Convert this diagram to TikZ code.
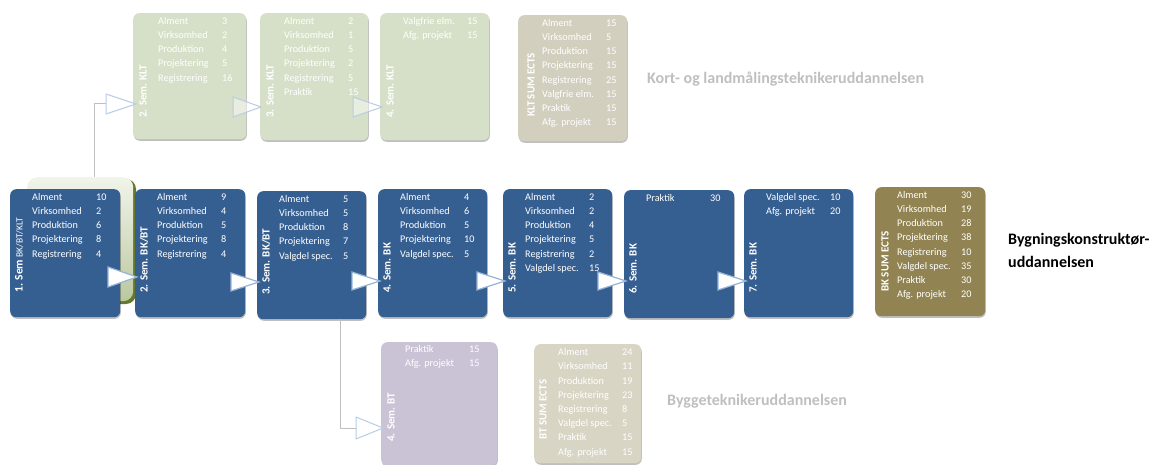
\documentclass[tikz,border=0pt]{standalone}
\usepackage{fontspec}
\setmainfont{Carlito}
\usetikzlibrary{calc,shadows}
\definecolor{bkblue}{HTML}{365F91}
\definecolor{kltgreen}{HTML}{D6E0C8}
\definecolor{kltsum}{HTML}{D3CFBF}
\definecolor{btlav}{HTML}{CAC3D5}
\definecolor{btsum}{HTML}{D8D5C5}
\definecolor{bksum}{HTML}{918452}
\definecolor{conngray}{HTML}{BFBFBF}
\definecolor{tribl}{HTML}{95B3D7}
\definecolor{trilight}{HTML}{B8CCE4}
\definecolor{olivedark}{HTML}{66772F}
\definecolor{greentop}{HTML}{F1F4EA}
\definecolor{greenbot}{HTML}{BBC89E}
\newcommand\rw[2]{\makebox[64pt][l]{#1}#2}
\tikzset{
  semibox/.style={rounded corners=6pt, anchor=north west, inner sep=0pt,
    drop shadow={shadow xshift=0.6pt, shadow yshift=-1.6pt, opacity=0.25, fill=black}},
  bluebox/.style={semibox, fill=bkblue},
  kltbox/.style={semibox, fill=kltgreen},
  kltsumbox/.style={semibox, fill=kltsum},
  btbox/.style={semibox, fill=btlav},
  btsumbox/.style={semibox, fill=btsum},
  bksumbox/.style={semibox, fill=bksum},
  tbl/.style={anchor=north west, inner sep=0pt, align=left, text=white,
    font=\fontsize{10.2}{14.2}\selectfont},
  vlab/.style={rotate=90, anchor=west, inner sep=0pt, text=white,
    font=\bfseries\fontsize{11}{12}\selectfont},
  conn/.style={draw=conngray, line width=1pt},
  bluetri/.style={draw=tribl, fill=white, line width=1.2pt, line join=miter},
  lighttri/.style={draw=trilight, fill=white, fill opacity=0.45, line width=1pt},
  biglab/.style={inner sep=0pt, font=\bfseries\fontsize{16}{23}\selectfont},
}
\begin{document}
\begin{tikzpicture}[x=1pt, y=-1pt]
\useasboundingbox (0,0) rectangle (1157,465);

% green box behind first semester
\fill[olivedark, rounded corners=10pt] (29,179) rectangle (136,304);
\node[rounded corners=10pt, anchor=north west, inner sep=0pt,
  minimum width=106, minimum height=124,
  top color=greentop, bottom color=greenbot] (g1) at (27,177) {};

% ---------- BK row ----------
\node[bluebox, minimum width=110, minimum height=128] (b1) at (10,189) {};
\node[bluebox, minimum width=110, minimum height=128] (b2) at (135,189) {};
\node[bluebox, minimum width=109, minimum height=128] (b3) at (257,191) {};
\node[bluebox, minimum width=109, minimum height=128] (b4) at (378,189) {};
\node[bluebox, minimum width=109, minimum height=128] (b5) at (503,189) {};
\node[bluebox, minimum width=110, minimum height=128] (b6) at (624,190) {};
\node[bluebox, minimum width=109, minimum height=128] (b7) at (744,189) {};
\node[bksumbox, minimum width=110, minimum height=129] (bks) at (875,187) {};

\node[tbl] (b1t) at ($(b1.north west)+(22,4)$) {\rw{Alment}{10}\\\rw{Virksomhed}{2}\\\rw{Produktion}{6}\\\rw{Projektering}{8}\\\rw{Registrering}{4}};
\node[tbl] (b2t) at ($(b2.north west)+(22,4)$) {\rw{Alment}{9}\\\rw{Virksomhed}{4}\\\rw{Produktion}{5}\\\rw{Projektering}{8}\\\rw{Registrering}{4}};
\node[tbl] (b3t) at ($(b3.north west)+(22,4)$) {\rw{Alment}{5}\\\rw{Virksomhed}{5}\\\rw{Produktion}{8}\\\rw{Projektering}{7}\\\rw{Valgdel spec.}{5}};
\node[tbl] (b4t) at ($(b4.north west)+(22,4)$) {\rw{Alment}{4}\\\rw{Virksomhed}{6}\\\rw{Produktion}{5}\\\rw{Projektering}{10}\\\rw{Valgdel spec.}{5}};
\node[tbl] (b5t) at ($(b5.north west)+(22,4)$) {\rw{Alment}{2}\\\rw{Virksomhed}{2}\\\rw{Produktion}{4}\\\rw{Projektering}{5}\\\rw{Registrering}{2}\\\rw{Valgdel spec.}{15}};
\node[tbl] (b6t) at ($(b6.north west)+(22,4)$) {\rw{Praktik}{30}};
\node[tbl] (b7t) at ($(b7.north west)+(22,4)$) {\rw{Valgdel spec.}{10}\\\rw{Afg. projekt}{20}};
\node[tbl] (bkst) at ($(bks.north west)+(22,4)$) {\rw{Alment}{30}\\\rw{Virksomhed}{19}\\\rw{Produktion}{28}\\\rw{Projektering}{38}\\\rw{Registrering}{10}\\\rw{Valgdel spec.}{35}\\\rw{Praktik}{30}\\\rw{Afg. projekt}{20}};

\node[vlab] (b1l) at ($(b1.north west)+(9,104)$) {\fontsize{11.5}{12}\selectfont 1. Sem {\mdseries\fontsize{9.5}{10}\selectfont BK/BT/KLT}};
\node[vlab] (b2l) at ($(b2.north west)+(9,104)$) {2. Sem. BK/BT};
\node[vlab] (b3l) at ($(b3.north west)+(9,104)$) {3. Sem. BK/BT};
\node[vlab] (b4l) at ($(b4.north west)+(9,104)$) {4. Sem. BK};
\node[vlab] (b5l) at ($(b5.north west)+(9,104)$) {5. Sem. BK};
\node[vlab] (b6l) at ($(b6.north west)+(9,104)$) {6. Sem. BK};
\node[vlab] (b7l) at ($(b7.north west)+(9,104)$) {7. Sem. BK};
\node[vlab] (bksl) at ($(bks.north west)+(10,105)$) {BK SUM ECTS};

% ---------- KLT row ----------
\node[kltbox, minimum width=113, minimum height=126] (k2) at (133,13) {};
\node[kltbox, minimum width=108, minimum height=127] (k3) at (260,13) {};
\node[kltbox, minimum width=109, minimum height=127] (k4) at (380,13) {};
\node[kltsumbox, minimum width=109, minimum height=126] (ks) at (518,15) {};

\node[tbl] (k2t) at ($(k2.north west)+(25,4)$) {\rw{Alment}{3}\\\rw{Virksomhed}{2}\\\rw{Produktion}{4}\\\rw{Projektering}{5}\\\rw{Registrering}{16}};
\node[tbl] (k3t) at ($(k3.north west)+(24,4)$) {\rw{Alment}{2}\\\rw{Virksomhed}{1}\\\rw{Produktion}{5}\\\rw{Projektering}{2}\\\rw{Registrering}{5}\\\rw{Praktik}{15}};
\node[tbl] (k4t) at ($(k4.north west)+(23,4)$) {\rw{Valgfrie elm.}{15}\\\rw{Afg. projekt}{15}};
\node[tbl] (kst) at ($(ks.north west)+(24,4)$) {\rw{Alment}{15}\\\rw{Virksomhed}{5}\\\rw{Produktion}{15}\\\rw{Projektering}{15}\\\rw{Registrering}{25}\\\rw{Valgfrie elm.}{15}\\\rw{Praktik}{15}\\\rw{Afg. projekt}{15}};

\node[vlab] (k2l) at ($(k2.north west)+(10,105)$) {2. Sem. KLT};
\node[vlab] (k3l) at ($(k3.north west)+(10,105)$) {3. Sem. KLT};
\node[vlab] (k4l) at ($(k4.north west)+(10,105)$) {4. Sem. KLT};
\node[vlab] (ksl) at ($(ks.north west)+(13,102)$) {KLT SUM ECTS};

% ---------- BT row ----------
\node[btbox, minimum width=116, minimum height=123] (t4) at (381,342) {};
\node[btsumbox, minimum width=107, minimum height=119] (ts) at (534,344) {};

\node[tbl] (t4t) at ($(t4.north west)+(24,3.5)$) {\rw{Praktik}{15}\\\rw{Afg. projekt}{15}};
\node[tbl] (tst) at ($(ts.north west)+(24,4.5)$) {\rw{Alment}{24}\\\rw{Virksomhed}{11}\\\rw{Produktion}{19}\\\rw{Projektering}{23}\\\rw{Registrering}{8}\\\rw{Valgdel spec.}{5}\\\rw{Praktik}{15}\\\rw{Afg. projekt}{15}};

\node[vlab] (t4l) at ($(t4.north west)+(10,100)$) {4. Sem. BT};
\node[vlab] (tsl) at ($(ts.north west)+(9,96)$) {BT SUM ECTS};

% ---------- titles ----------
\node[biglab, text=conngray, anchor=west] (kltlab) at (647,79) {Kort- og landmålingsteknikeruddannelsen};
\node[biglab, text=black, anchor=north west, align=left] (bklab) at (1008,233) {Bygningskonstruktør-\\uddannelsen};
\node[biglab, text=conngray, anchor=west] (btlab) at (667,401) {Byggeteknikeruddannelsen};

% ---------- connectors ----------
\coordinate (k2in) at ($(k2.north west)+(3,91)$);
\coordinate (k3in) at ($(k3.north west)+(1,94)$);
\coordinate (k4in) at ($(k4.north west)+(2,94)$);
\coordinate (t4in) at ($(t4.north west)+(2,86)$);

\draw[conn] ([xshift=14.5pt]g1.north) |- ($(k2in)+(-30,0)$);
\draw[conn] ([xshift=28.5pt]b3.south) |- ($(t4in)+(-27,0)$);

\draw[lighttri] (k2in) -- ++(-30,-10) -- ++(0,20) -- cycle;
\draw[lighttri] (k3in) -- ++(-28,-10) -- ++(0,20) -- cycle;
\draw[lighttri] (k4in) -- ++(-29,-10) -- ++(0,20) -- cycle;
\draw[lighttri] (t4in) -- ++(-27,-11) -- ++(0,22) -- cycle;

\draw[bluetri] ($(b2.north west)+(2,88)$) -- ++(-29,-10) -- ++(0,20) -- cycle;
\draw[bluetri] ($(b3.north west)+(2,91)$) -- ++(-28,-9) -- ++(0,18) -- cycle;
\draw[bluetri] ($(b4.north west)+(2,92)$) -- ++(-28,-9) -- ++(0,18) -- cycle;
\draw[bluetri] ($(b5.north west)+(2,92)$) -- ++(-28,-9) -- ++(0,18) -- cycle;
\draw[bluetri] ($(b6.north west)+(2,91)$) -- ++(-28,-9) -- ++(0,18) -- cycle;
\draw[bluetri] ($(b7.north west)+(2,92)$) -- ++(-28,-9) -- ++(0,18) -- cycle;
\end{tikzpicture}
\end{document}
